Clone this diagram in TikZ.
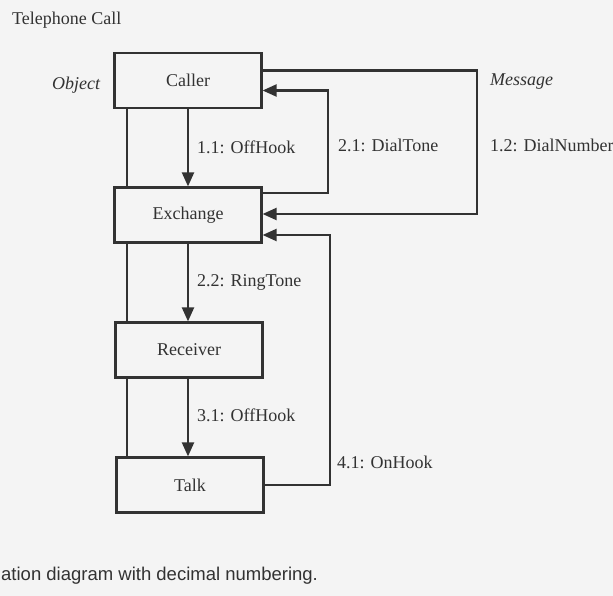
\documentclass[tikz,border=0pt]{standalone}
\usepackage{fontspec}
\setmainfont{Liberation Serif}
\newfontfamily\capfont{Liberation Sans}
\usetikzlibrary{arrows.meta}
\definecolor{ink}{RGB}{50,50,50}
\definecolor{bgc}{RGB}{244,244,244}
\tikzset{
  objbox/.style={draw=ink, line width=2.2pt, minimum width=147pt, minimum height=55pt, inner sep=0pt, text=ink, font=\fontsize{18}{20}\selectfont},
  link/.style={draw=ink, line width=2.2pt},
  msg/.style={draw=ink, line width=2.2pt, -{Triangle[width=12pt,length=14pt]}},
  lbl/.style={anchor=west, inner sep=0pt, text=ink, font=\fontsize{18}{20}\selectfont},
  ital/.style={lbl, font=\fontsize{18}{20}\selectfont\itshape}
}
\begin{document}
\begin{tikzpicture}[x=1pt,y=-1pt]
\fill[bgc] (0,0) rectangle (613,596);
\useasboundingbox (0,0) rectangle (613,596);

\node[objbox] (caller) at (188,80.5) {Caller};
\node[objbox] (exch) at (188,215) {Exchange};
\node[objbox] (recv) at (189,350) {Receiver};
\node[objbox] (talk) at (190,485) {Talk};

% left links
\coordinate (lx) at (127,0);
\draw[link] (caller.south -| lx) -- (exch.north -| lx);
\draw[link] (exch.south -| lx) -- (recv.north -| lx);
\draw[link] (recv.south -| lx) -- (talk.north -| lx);

% center messages
\coordinate (mx) at (188,0);
\draw[msg] (caller.south -| mx) -- (exch.north -| mx);
\draw[msg] (exch.south -| mx) -- (recv.north -| mx);
\draw[msg] (recv.south -| mx) -- (talk.north -| mx);

% right side coordinates
\coordinate (c1) at ([yshift=10pt]caller.east);
\coordinate (c2) at ([yshift=-10pt]caller.east);
\coordinate (e1) at ([yshift=22pt]exch.east);
\coordinate (e2) at ([yshift=1pt]exch.east);
\coordinate (e3) at ([yshift=-20pt]exch.east);
\coordinate (dnx) at (477,0);
\coordinate (dtx) at (328,0);
\coordinate (ohx) at (330,0);

% 1.2 DialNumber
\draw[msg] (c1) -- (c1 -| dnx) -- (e2 -| dnx) -- (e2);
% 2.1 DialTone
\draw[msg] (e1) -- (e1 -| dtx) -- (c2 -| dtx) -- (c2);
% 4.1 OnHook
\draw[msg] (talk.east) -- (talk.east -| ohx) -- (e3 -| ohx) -- (e3);

% labels
\node[lbl] (title) at (12,20) {Telephone Call};
\node[ital] (objl) at (52,85) {Object};
\node[ital] (msgl) at (490,82) {Message};
\node[lbl] (l11) at (197,147) {1.1: OffHook};
\node[lbl] (l21) at (338,145) {2.1: DialTone};
\node[lbl] (l12) at (490,145) {1.2: DialNumber};
\node[lbl] (l22) at (197,282) {2.2: RingTone};
\node[lbl] (l31) at (197,415) {3.1: OffHook};
\node[lbl] (l41) at (337,462) {4.1: OnHook};
\node[anchor=west, inner sep=0pt, text=ink, font=\capfont\fontsize{18.5}{20}\selectfont] (cap) at (1,576) {ation diagram with decimal numbering.};
\end{tikzpicture}
\end{document}
